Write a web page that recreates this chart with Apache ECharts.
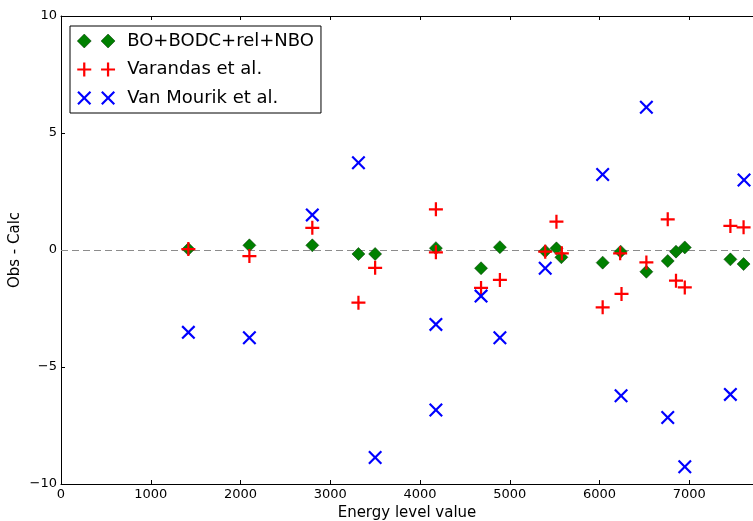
<!DOCTYPE html>
<html>
<head>
<meta charset="utf-8">
<script src="https://cdn.jsdelivr.net/npm/echarts@6/dist/echarts.min.js"></script>
<style>
  html, body { margin: 0; padding: 0; background: #fff; }
  #chart { width: 753px; height: 521px; }
</style>
</head>
<body>
<div id="chart"></div>
<script>
// series values (energy level, obs - calc)
var seriesNames = ['BO+BODC+rel+NBO', 'Varandas et al.', 'Van Mourik et al.']

var boX = [1419, 2099, 2800, 3314, 3500, 4177, 4680, 4890, 5395, 5520, 5575, 6035, 6235, 6522, 6760, 6852, 6950, 7458, 7605]
var boY = [0.04, 0.2, 0.2, -0.17, -0.17, 0.08, -0.78, 0.12, -0.05, 0.07, -0.31, -0.54, -0.07, -0.93, -0.47, -0.07, 0.11, -0.40, -0.60]

var varX = [1419, 2099, 2800, 3314, 3500, 4177, 4177, 4680, 4890, 5395, 5520, 5580, 6035, 6245, 6230, 6522, 6760, 6852, 6950, 7458, 7605]
var varY = [0.04, -0.26, 0.95, -2.25, -0.76, 1.74, -0.1, -1.62, -1.28, -0.07, 1.21, -0.14, -2.45, -1.88, -0.14, -0.53, 1.31, -1.31, -1.6, 1.03, 0.97]

var vmX = [1419, 2099, 2800, 3314, 3500, 4177, 4177, 4680, 4890, 5395, 6035, 6240, 6522, 6760, 6950, 7458, 7610]
var vmY = [-3.52, -3.75, 1.50, 3.73, -8.87, -3.18, -6.84, -1.97, -3.75, -0.78, 3.23, -6.23, 6.10, -7.16, -9.26, -6.17, 2.99]

var xTicks = [0, 1000, 2000, 3000, 4000, 5000, 6000, 7000]
var yTicks = [-10, -5, 0, 5, 10]

function pairs (xs, ys) {
  return xs.map(function (x, i) { return [x, ys[i]] })
}

// marker shapes
var plusPath = 'path://M42,0 H58 V42 H100 V58 H58 V100 H42 V58 H0 V42 H42 Z'
var crossPath = 'path://M0,11 L11,0 L50,39 L89,0 L100,11 L61,50 L100,89 L89,100 L50,61 L11,100 L0,89 L39,50 Z'
// legend icons show two markers each, like matplotlib numpoints=2
var diamond2 = 'path://M50,0 L100,50 L50,100 L0,50 Z M220,0 L270,50 L220,100 L170,50 Z'
var plus2 = 'path://M42,0 H58 V42 H100 V58 H58 V100 H42 V58 H0 V42 H42 Z M212,0 H228 V42 H270 V58 H228 V100 H212 V58 H170 V42 H212 Z'
var cross2 = 'path://M0,11 L11,0 L50,39 L89,0 L100,11 L61,50 L100,89 L89,100 L50,61 L11,100 L0,89 L39,50 Z M170,11 L181,0 L220,39 L259,0 L270,11 L231,50 L270,89 L259,100 L220,61 L181,100 L170,89 L209,50 Z'

var font = 'DejaVu Sans'
function minus (v) { return String(v).replace('-', '\u2212') }
function plain (v) { return xTicks.indexOf(v) >= 0 ? String(v) : '' }
function yLabel (v) { return yTicks.indexOf(v) >= 0 ? minus(v) : '' }

var chart = echarts.init(document.getElementById('chart'), null, { renderer: 'canvas' })
chart.setOption({
  animation: false,
  backgroundColor: '#fff',
  textStyle: { fontFamily: font },
  grid: { left: 61, top: 16, right: 0, bottom: 37, outerBoundsMode: 'none', containLabel: false },
  legend: {
    orient: 'vertical',
    left: 70,
    top: 26,
    padding: [6, 7, 6, 7],
    borderColor: '#000',
    borderWidth: 1,
    backgroundColor: '#fff',
    itemWidth: 38,
    itemHeight: 14,
    itemGap: 10.5,
    selectedMode: false,
    textStyle: { fontFamily: font, fontSize: 18, color: '#000', lineHeight: 18, padding: [0, 0, 0, 7] },
    data: [
      { name: seriesNames[0], icon: diamond2, itemStyle: { borderWidth: 0.5, borderColor: '#003000' } },
      { name: seriesNames[1], icon: plus2 },
      { name: seriesNames[2], icon: cross2 }
    ]
  },
  xAxis: [{
    type: 'value',
    min: 0,
    max: 7710,
    interval: 1000,
    name: 'Energy level value',
    nameLocation: 'middle',
    nameGap: 20,
    nameTextStyle: { fontFamily: font, fontSize: 15, color: '#000' },
    axisLine: { show: true, onZero: false, lineStyle: { color: '#000', width: 1 } },
    axisTick: { show: true, inside: true, length: 4, lineStyle: { color: '#000' } },
    axisLabel: { fontFamily: font, fontSize: 13, color: '#000', margin: 4, showMaxLabel: false, formatter: plain },
    splitLine: { show: false }
  }, {
    type: 'value',
    position: 'top',
    min: 0,
    max: 7710,
    interval: 1000,
    axisLine: { show: true, onZero: false, lineStyle: { color: '#000', width: 1 } },
    axisTick: { show: true, inside: true, length: 4, lineStyle: { color: '#000' } },
    axisLabel: { show: false },
    splitLine: { show: false }
  }],
  yAxis: [{
    type: 'value',
    min: -10,
    max: 10,
    interval: 5,
    name: 'Obs - Calc',
    nameLocation: 'middle',
    nameGap: 38,
    nameMoveOverlap: false,
    nameTextStyle: { fontFamily: font, fontSize: 15, color: '#000' },
    axisLine: { show: true, onZero: false, lineStyle: { color: '#000', width: 1 } },
    axisTick: { show: true, inside: true, length: 4, lineStyle: { color: '#000' } },
    axisLabel: { fontFamily: font, fontSize: 13, color: '#000', margin: 4, formatter: yLabel },
    splitLine: { show: false }
  }],
  series: [{
    name: seriesNames[0],
    type: 'scatter',
    symbol: 'diamond',
    symbolSize: 13,
    z: 3,
    itemStyle: { color: '#008000', borderColor: '#003000', borderWidth: 0.5, opacity: 1 },
    data: pairs(boX, boY),
    markLine: {
      silent: true,
      symbol: 'none',
      label: { show: false },
      lineStyle: { color: '#8c8c8c', width: 1, type: [7, 4], opacity: 1 },
      emphasis: { disabled: true },
      data: [{ yAxis: 0 }],
      z: 1
    }
  }, {
    name: seriesNames[1],
    type: 'scatter',
    symbol: plusPath,
    symbolSize: 14,
    z: 4,
    itemStyle: { color: '#ff0000', opacity: 1 },
    data: pairs(varX, varY)
  }, {
    name: seriesNames[2],
    type: 'scatter',
    symbol: crossPath,
    symbolSize: 14,
    z: 5,
    itemStyle: { color: '#0000ff', opacity: 1 },
    data: pairs(vmX, vmY)
  }]
})
</script>
</body>
</html>
